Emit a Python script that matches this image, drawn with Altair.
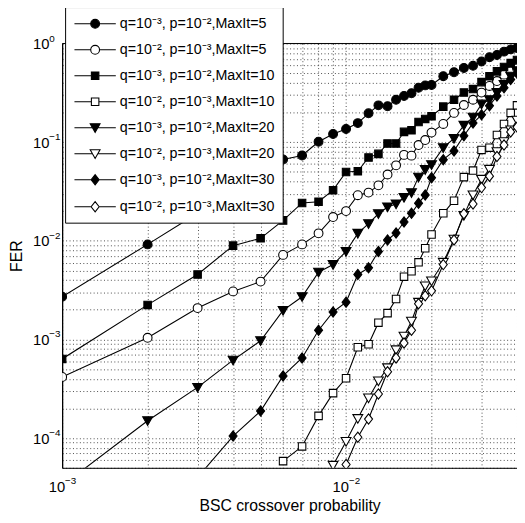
import altair as alt
import pandas as pd

# ---------------- data ----------------
x_vals = [0.001, 0.002, 0.003, 0.004, 0.005, 0.006, 0.007, 0.008, 0.009, 0.010,
          0.011, 0.012, 0.013, 0.014, 0.015, 0.016, 0.017, 0.018, 0.019, 0.020,
          0.022, 0.024, 0.026, 0.028, 0.030, 0.032, 0.034, 0.036, 0.038, 0.040]

series_names = [
    "q=10⁻³, p=10⁻²,MaxIt=5",
    "q=10⁻², p=10⁻³,MaxIt=5",
    "q=10⁻³, p=10⁻²,MaxIt=10",
    "q=10⁻², p=10⁻³,MaxIt=10",
    "q=10⁻³, p=10⁻²,MaxIt=20",
    "q=10⁻², p=10⁻³,MaxIt=20",
    "q=10⁻³, p=10⁻²,MaxIt=30",
    "q=10⁻², p=10⁻³,MaxIt=30",
]

N = None
fer_q3_it5 = [0.00271, 0.0092, 0.019, 0.032, 0.048, 0.0668, 0.0732, 0.101, 0.121, 0.136,
              0.156, 0.196, 0.236, 0.231, 0.269, 0.294, 0.313, 0.356, 0.376, 0.38,
              0.466, 0.511, 0.564, 0.594, 0.657, 0.726, 0.764, 0.827, 0.871, 0.90]
fer_q2_it5 = [4.17e-4, 1.04e-3, 2.08e-3, 3.07e-3, 3.86e-3, 7.2e-3, 9.2e-3, 0.0119, 0.0174, 0.0200,
              0.0290, 0.0308, 0.0365, 0.047, 0.0582, 0.0743, 0.073, 0.0935, 0.105, 0.125,
              0.153, 0.198, 0.238, 0.269, 0.318, 0.371, 0.416, 0.483, 0.522, 0.56]
fer_q3_it10 = [6.35e-4, 2.24e-3, 4.56e-3, 8.93e-3, 0.0106, 0.0161, 0.0242, 0.0249, 0.0326, 0.0499,
               0.0507, 0.070, 0.076, 0.097, 0.097, 0.127, 0.132, 0.160, 0.172, 0.183,
               0.229, 0.269, 0.318, 0.345, 0.406, 0.466, 0.522, 0.577, 0.632, 0.68]
fer_q2_it10 = [N, N, N, N, N, 5.85e-5, 8.24e-5, 1.68e-4, 2.86e-4, 4.04e-4,
               8.35e-4, 8.95e-4, 1.48e-3, 1.85e-3, 2.57e-3, 4.33e-3, 4.92e-3, 6.05e-3, 8.41e-3, 0.0116,
               0.0190, 0.0255, 0.0442, 0.0515, 0.0834, 0.0879, 0.118, 0.153, 0.198, 0.236]
fer_q3_it20 = [3.3e-5, 1.5e-4, 3.27e-4, 6.17e-4, 9.7e-4, 1.97e-3, 2.71e-3, 4.8e-3, 5.74e-3, 7.8e-3,
               0.0119, 0.0149, 0.0188, 0.022, 0.0236, 0.0275, 0.0308, 0.0442, 0.0527, 0.0591,
               0.0879, 0.109, 0.148, 0.179, 0.243, 0.269, 0.318, 0.384, 0.466, 0.53]
fer_q2_it20 = [N, N, N, N, N, N, N, N, 5.3e-5, 9.25e-5,
               1.58e-4, 2.55e-4, 3.8e-4, 5.16e-4, 7.85e-4, 1.08e-3, 1.53e-3, 2.38e-3, 3.49e-3, 3.92e-3,
               6.05e-3, 0.0104, 0.0181, 0.0292, 0.042, 0.053, 0.080, 0.101, 0.133, 0.167]
fer_q3_it30 = [N, N, 4e-5, 1.05e-4, 1.88e-4, 4.27e-4, 6.5e-4, 1.24e-3, 1.9e-3, 2.39e-3,
               4.56e-3, 5.32e-3, 7.8e-3, 0.0102, 0.0120, 0.0155, 0.019, 0.024, 0.0292, 0.0435,
               0.0664, 0.0815, 0.116, 0.156, 0.189, 0.234, 0.294, 0.356, 0.431, 0.50]
fer_q2_it30 = [N, N, N, N, N, N, N, N, N, 5.4e-5,
               1.02e-4, 1.56e-4, 2.8e-4, 4.71e-4, 6.5e-4, 9.2e-4, 1.24e-3, 2.3e-3, 2.77e-3, 3.11e-3,
               5.74e-3, 0.0102, 0.0188, 0.0236, 0.0346, 0.0452, 0.0716, 0.0935, 0.127, 0.142]

all_series = [fer_q3_it5, fer_q2_it5, fer_q3_it10, fer_q2_it10,
              fer_q3_it20, fer_q2_it20, fer_q3_it30, fer_q2_it30]

x_grid = [0.001, 0.002, 0.003, 0.004, 0.005, 0.006, 0.007, 0.008, 0.009,
          0.01, 0.02, 0.03, 0.04]
y_grid = [5e-5, 6e-5, 7e-5, 8e-5, 9e-5,
          1e-4, 2e-4, 3e-4, 4e-4, 5e-4, 6e-4, 7e-4, 8e-4, 9e-4,
          1e-3, 2e-3, 3e-3, 4e-3, 5e-3, 6e-3, 7e-3, 8e-3, 9e-3,
          1e-2, 2e-2, 3e-2, 4e-2, 5e-2, 6e-2, 7e-2, 8e-2, 9e-2,
          0.1, 0.2, 0.3, 0.4, 0.5, 0.6, 0.7, 0.8, 0.9, 1.0]
x_decades = [0.001, 0.01]
x_exps = ["−3", "−2"]
y_decades = [1e-4, 1e-3, 1e-2, 1e-1, 1.0]
y_exps = ["−4", "−3", "−2", "−1", "0"]

# ---------------- styling ----------------
W, H = 462, 431
FONT = "Liberation Sans"

# plot markers (size 64 -> unit = 4 px)
marker_paths = [
    "M1.12,0A1.12,1.12,0,1,1,-1.12,0A1.12,1.12,0,1,1,1.12,0Z",
    "M1.12,0A1.12,1.12,0,1,1,-1.12,0A1.12,1.12,0,1,1,1.12,0Z",
    "M-0.95,-0.95L0.95,-0.95L0.95,0.95L-0.95,0.95Z",
    "M-0.95,-0.95L0.95,-0.95L0.95,0.95L-0.95,0.95Z",
    "M-1.25,-1.0L1.25,-1.0L0,1.2Z",
    "M-1.25,-1.0L1.25,-1.0L0,1.2Z",
    "M0,-1.3L1.02,0L0,1.3L-1.02,0Z",
    "M0,-1.3L1.02,0L0,1.3L-1.02,0Z",
]
fills = ["black", "white"] * 4
strokes = ["black"] * 8

# legend symbols (size 256 -> unit = 8 px), line + marker
L = "M-2.625,0L-{a},0M{a},0L2.625,0"
legend_paths = [
    L.format(a=0.56) + "M0.56,0A0.56,0.56,0,1,1,-0.56,0A0.56,0.56,0,1,1,0.56,0Z",
    L.format(a=0.56) + "M0.56,0A0.56,0.56,0,1,1,-0.56,0A0.56,0.56,0,1,1,0.56,0Z",
    L.format(a=0.475) + "M-0.475,-0.475L0.475,-0.475L0.475,0.475L-0.475,0.475Z",
    L.format(a=0.475) + "M-0.475,-0.475L0.475,-0.475L0.475,0.475L-0.475,0.475Z",
    L.format(a=0.34) + "M-0.625,-0.5L0.625,-0.5L0,0.6Z",
    L.format(a=0.34) + "M-0.625,-0.5L0.625,-0.5L0,0.6Z",
    L.format(a=0.51) + "M0,-0.65L0.51,0L0,0.65L-0.51,0Z",
    L.format(a=0.51) + "M0,-0.65L0.51,0L0,0.65L-0.51,0Z",
]

rows = []
for name, vals in zip(series_names, all_series):
    for i, (xv, v) in enumerate(zip(x_vals, vals)):
        if v is not None:
            rows.append({"p": xv, "fer": v, "series": name, "idx": i})
df = pd.DataFrame(rows)

xscale = alt.Scale(type="log", domain=[0.001, 0.04], nice=False)
yscale = alt.Scale(type="log", domain=[5e-5, 1.0], nice=False)

GRID = dict(grid=True, gridDash=[1, 2.5], gridColor="#000000", gridOpacity=0.7, gridWidth=1)
x_axis = alt.Axis(values=x_grid, labels=False, ticks=False, **GRID,
                  domainColor="black", domainWidth=1,
                  title="BSC crossover probability", titleFont=FONT, titleFontSize=16,
                  titleFontWeight="normal", titleColor="black",
                  titleX=W / 2, titleY=43, titleBaseline="alphabetic", titleAlign="center")
y_axis = alt.Axis(values=y_grid, labels=False, ticks=False, **GRID,
                  domainColor="black", domainWidth=1.3,
                  title="FER", titleFont=FONT, titleFontSize=16,
                  titleFontWeight="normal", titleColor="black",
                  titleX=-41, titleY=H / 2, titleBaseline="alphabetic", titleAngle=-90,
                  titleAlign="center")

X = alt.X("p:Q", scale=xscale, axis=x_axis)
Y = alt.Y("fer:Q", scale=yscale, axis=y_axis)

base = alt.Chart(df)

lines = base.mark_line(color="black", strokeWidth=1.1, clip=True).encode(
    x=X, y=Y, detail="series:N", order="idx:Q")

points = base.mark_point(stroke="black", strokeWidth=1.1, opacity=1, size=64,
                         clip=True).encode(
    x=X, y=Y,
    shape=alt.Shape("series:N", scale=alt.Scale(domain=series_names, range=marker_paths),
                    legend=None),
    fill=alt.Fill("series:N", scale=alt.Scale(domain=series_names, range=fills),
                  legend=None),
)

def leg():
    return alt.Legend(orient="none", legendX=3, legendY=-37, title=None,
                      fillColor="white", strokeColor="black",
                      padding=8, symbolSize=256, symbolOffset=13.5,
                      labelOffset=16, rowPadding=10.4,
                      labelFont=FONT, labelFontSize=14.5, labelColor="black",
                      symbolStrokeColor="black", symbolStrokeWidth=1.1,
                      symbolOpacity=1, labelLimit=400)

legend_layer = base.transform_filter("false").mark_point(
    stroke="black", strokeWidth=1.1, opacity=1, size=256, filled=False).encode(
    x=X, y=Y,
    shape=alt.Shape("series:N", scale=alt.Scale(domain=series_names, range=legend_paths),
                    legend=leg()),
    fill=alt.Fill("series:N", scale=alt.Scale(domain=series_names, range=fills),
                  legend=leg()),
    stroke=alt.Stroke("series:N", scale=alt.Scale(domain=series_names, range=strokes),
                      legend=leg()),
)

xl = pd.DataFrame({"v": x_decades, "e": x_exps})
yl = pd.DataFrame({"v": y_decades, "e": y_exps})

xlab10 = alt.Chart(xl).mark_text(align="right", baseline="alphabetic", dx=3,
                                 font=FONT, fontSize=15, color="black").encode(
    x=alt.X("v:Q", scale=xscale, axis=x_axis), y=alt.value(H + 25), text=alt.value("10"))
xlabexp = alt.Chart(xl).mark_text(align="left", baseline="alphabetic", dx=3,
                                  font=FONT, fontSize=10, color="black").encode(
    x=alt.X("v:Q", scale=xscale, axis=x_axis), y=alt.value(H + 16), text="e:N")
ylab10 = alt.Chart(yl).mark_text(align="right", baseline="alphabetic", dy=5.5,
                                 font=FONT, fontSize=15, color="black").encode(
    y=alt.Y("v:Q", scale=yscale, axis=y_axis), x=alt.value(-13), text=alt.value("10"))
ylabexp = alt.Chart(yl).mark_text(align="left", baseline="alphabetic", dy=-2,
                                  font=FONT, fontSize=10, color="black").encode(
    y=alt.Y("v:Q", scale=yscale, axis=y_axis), x=alt.value(-13), text="e:N")

topline = alt.Chart(pd.DataFrame({"a": [0]})).mark_rule(color="black", strokeWidth=1).encode(
    x=alt.value(0), x2=alt.value(W), y=alt.value(0))

chart = alt.layer(lines, points, legend_layer, xlab10, xlabexp, ylab10, ylabexp, topline
                  ).resolve_scale(shape="independent", fill="independent",
                                  stroke="independent").properties(
    width=W, height=H,
    autosize=alt.AutoSizeParams(type="none"),
    padding={"left": 55, "top": 32, "right": 0, "bottom": 52},
).configure_view(strokeWidth=0).configure(font=FONT)

chart.save("out.html", embed_options={"renderer": "svg", "actions": False})
